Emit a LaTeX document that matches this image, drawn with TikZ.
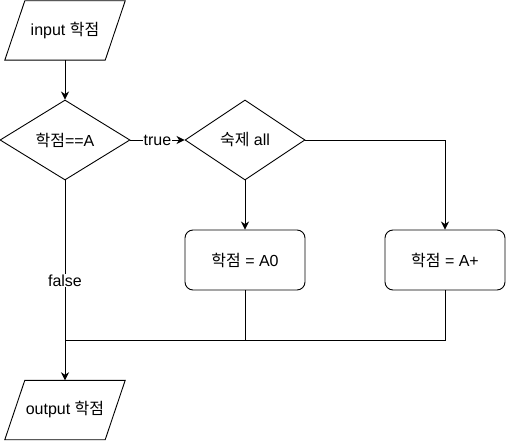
\documentclass[tikz,border=0pt]{standalone}
\usepackage{fontspec}
\setmainfont{Liberation Sans}
\newfontfamily\kr{Noto Sans CJK KR}
\usetikzlibrary{shapes.geometric,arrows.meta}
\begin{document}
\begin{tikzpicture}[x=1pt,y=-1pt,
  every node/.style={font=\fontsize{16}{19}\selectfont},
  io/.style={minimum width=100pt,minimum height=59pt,inner sep=0pt},
  ioline/.style={line width=0.9pt},
  dec/.style={draw,line width=0.9pt,diamond,inner sep=0pt,minimum width=#1,minimum height=80pt},
  proc/.style={draw,line width=0.9pt,rounded corners=8pt,minimum width=120pt,minimum height=60pt,inner sep=0pt},
  conn/.style={line width=0.9pt},
  arr/.style={conn,-{Stealth[length=8pt,width=8pt,inset=2.5pt]}},
  lab/.style={fill=white,inner sep=1pt}]
\useasboundingbox (0,0) rectangle (506,441);
\node[io] (in) at (65,30.5) {input {\kr 학점}};
\draw[ioline] ([xshift=10pt]in.north west) -- ([xshift=10pt]in.north east) -- ([xshift=-10pt]in.south east) -- ([xshift=-10pt]in.south west) -- cycle;
\node[dec=130pt] (d1) at (65,140) {{\kr 학점}==A};
\node[dec=120pt] (d2) at (245,140) {{\kr 숙제} all};
\node[proc] (p1) at (245,260) {{\kr 학점} = A0};
\node[proc] (p2) at (445,260) {{\kr 학점} = A+};
\node[io] (out) at (65,410) {output {\kr 학점}};
\draw[ioline] ([xshift=10pt]out.north west) -- ([xshift=10pt]out.north east) -- ([xshift=-10pt]out.south east) -- ([xshift=-10pt]out.south west) -- cycle;
\coordinate (c1) at (445,140);
\coordinate (j1) at (245,340);
\coordinate (j2) at (445,340);
\coordinate (j0) at (65,340);
\draw[arr] (in.south) -- (d1.north);
\draw[arr] (d1.east) -- node[lab,pos=0.5] {true} (d2.west);
\draw[arr] (d2.east) -- (c1) -- (p2.north);
\draw[arr] (d2.south) -- (p1.north);
\draw[arr] (d1.south) -- node[lab,pos=0.5] {false} (out.north);
\draw[conn] (p1.south) -- (j1);
\draw[conn] (p2.south) -- (j2) -- (j0);
\end{tikzpicture}
\end{document}
